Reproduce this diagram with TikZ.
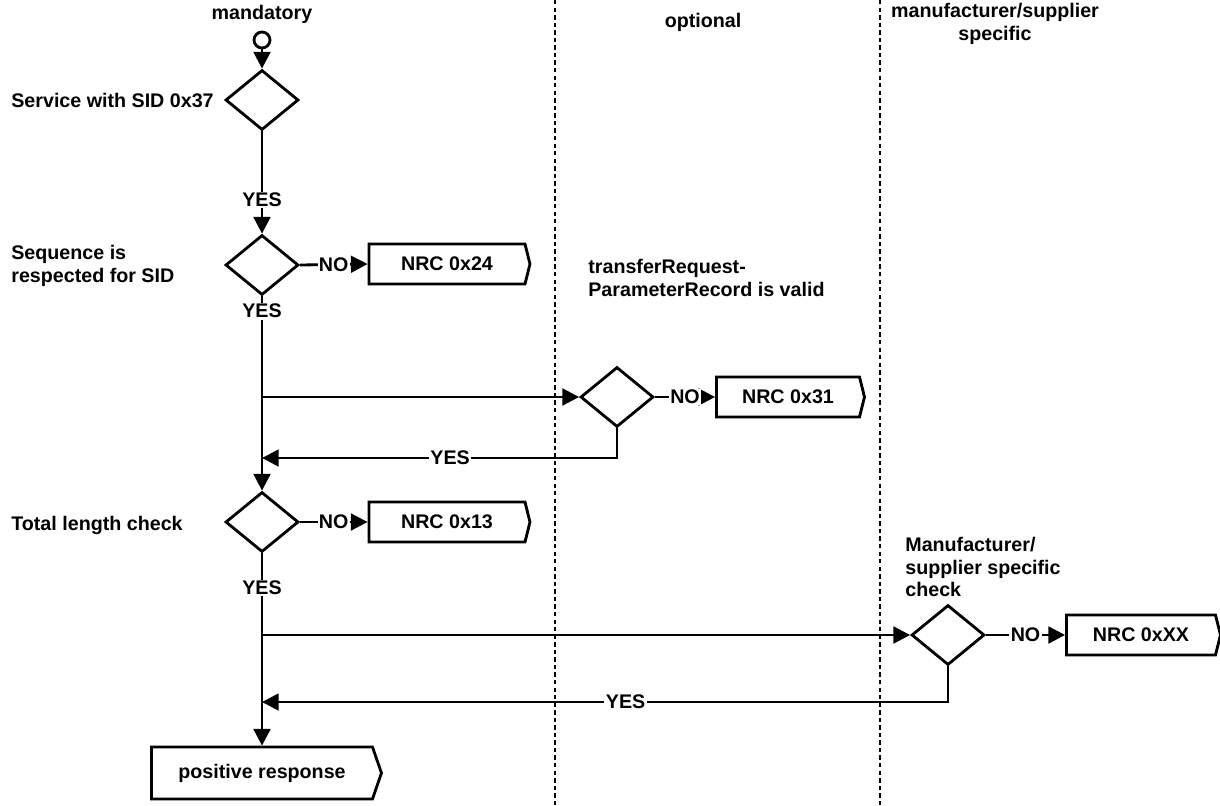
\documentclass[tikz,border=0pt]{standalone}
\usepackage{fontspec}
\setmainfont{Liberation Sans}
\usetikzlibrary{shapes.geometric,shapes.symbols,arrows.meta}
\tikzset{
  decision/.style={draw,diamond,line width=1.6pt,minimum width=1.46cm,minimum height=1.2cm,inner sep=0pt},
  nrcbox/.style={draw,signal,signal to=east,signal pointer angle=152,line width=1.6pt,minimum height=0.8cm,inner sep=2pt},
  flow/.style={line width=1.6pt,-{Triangle[length=9.5pt,width=9.5pt]}},
  lane/.style={line width=1.6pt,dash pattern=on 2.5pt off 1.8pt},
  txt/.style={inner sep=0pt,align=left,anchor=west},
  yes/.style={fill=white,inner sep=0.8pt},
}
\begin{document}
\begin{tikzpicture}[x=0.02cm,y=-0.02cm,every node/.style={font=\fontsize{11.2}{13}\selectfont\bfseries}]
    \useasboundingbox (0,0) rectangle (1220,805);
    \draw[lane] (555,0)--(555,805);
    \draw[lane] (880,0)--(880,805);
    \node (hmand) at (262,14) {mandatory};
    \node (hopt) at (703,22) {optional};
    \node[align=center] (hmfr) at (995,24) {manufacturer/supplier\\specific};

    \node[draw,circle,line width=1.6pt,minimum size=0.32cm,inner sep=0pt] (start) at (262,40) {};
    \node[decision] (sid) at (262,100) {};
    \node[txt] (tsid) at (11,100) {Service with SID 0x37};
    \node[decision] (seq) at (262,265) {};
    \node[txt] (tseq) at (11,266) {Sequence is\\respected for SID};
    \node[nrcbox,minimum width=3.22cm] (nrc24) at (447,264) {NRC 0x24};
    \node[txt] (ttrp) at (588,278) {transferRequest-\\ParameterRecord is valid};
    \node[decision] (trp) at (617,397) {};
    \node[nrcbox,minimum width=2.96cm] (nrc31) at (788,397) {NRC 0x31};
    \node[decision] (len) at (262,522) {};
    \node[txt] (tlen) at (11,525) {Total length check};
    \node[nrcbox,minimum width=3.22cm] (nrc13) at (447,522) {NRC 0x13};
    \node[txt] (tmfr) at (905,567) {Manufacturer/\\supplier specific\\check};
    \node[decision] (mfr) at (948,635) {};
    \node[nrcbox,minimum width=3.08cm] (nrcxx) at (1141,635) {NRC 0xXX};
    \node[nrcbox,minimum width=4.6cm,minimum height=1.04cm,signal pointer angle=142] (pos) at (262,773) {positive response};

    \coordinate (b1) at (262,397);
    \coordinate (r1) at (262,458);
    \coordinate (b2) at (262,635);
    \coordinate (r2) at (262,702);

    \draw[flow] (start)--(sid);
    \draw[flow] (sid.south)--node[yes,pos=0.67]{YES}(seq.north);
    \draw[flow] (seq.east)--node[yes,pos=0.5]{NO}(nrc24.west);
    \draw[flow] (seq.south)--node[yes,pos=0.076]{YES}(len.north);
    \draw[flow] (b1)--(trp.west);
    \draw[flow] (trp.east)--node[yes,pos=0.5]{NO}(nrc31.west);
    \draw[flow] (trp.south)|-node[yes,pos=0.735]{YES}(r1);
    \draw[flow] (len.east)--node[yes,pos=0.5]{NO}(nrc13.west);
    \draw[flow] (len.south)--node[yes,pos=0.18]{YES}(pos.north);
    \draw[flow] (b2)--(mfr.west);
    \draw[flow] (mfr.east)--node[yes,pos=0.5]{NO}(nrcxx.west);
    \draw[flow] (mfr.south)|-node[yes,pos=0.735]{YES}(r2);
\end{tikzpicture}
\end{document}
